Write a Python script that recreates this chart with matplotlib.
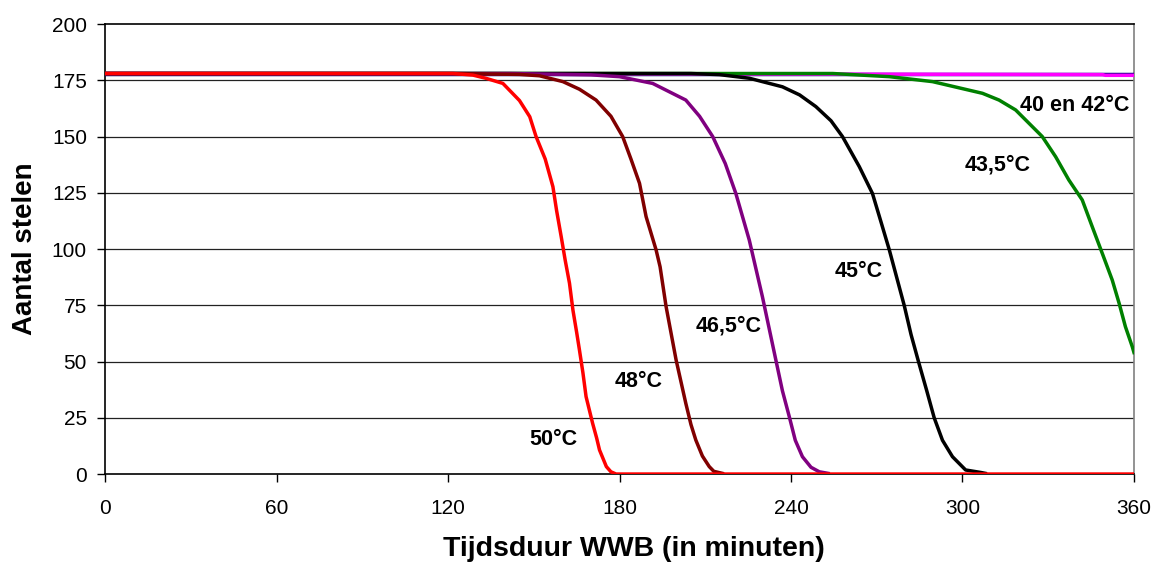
import matplotlib
matplotlib.use("Agg")
import matplotlib.pyplot as plt

plt.rcParams['font.family'] = ['Liberation Sans', 'DejaVu Sans']

# stem counts vs. time (minutes) per temperature
t_40 = [0, 360]
n_40 = [178, 178]

t_42 = [0, 275, 349, 350, 360]
n_42 = [178, 177.7, 177.5, 177.2, 177.2]

t_435 = [0, 254.6, 274.4, 289.5, 307, 312.8, 318.6, 327.9, 332.6, 337.2, 341.9,
         345.4, 348.9, 352.4, 354.8, 357, 359.4, 360]
n_435 = [178, 178, 176.6, 174.4, 169.2, 166.2, 161.8, 150, 141, 130.7, 121.8,
         109.9, 98.1, 86.2, 75.9, 65.5, 56.6, 54]

t_45 = [0, 205, 215, 225.4, 237, 243, 248.7, 254, 258, 263.9, 268.5, 271.5,
        274.4, 279.6, 282, 284.6, 287.5, 290.1, 293, 296.5, 301.1, 306.4, 308]
n_45 = [178, 178, 177.5, 175.9, 172.1, 168.5, 163.3, 157, 150, 136.6, 124.7, 112,
        99.6, 75, 62, 50, 37, 25, 15, 7.7, 1.8, 0.7, 0.3]

t_465 = [0, 142, 170, 180, 191.6, 203.2, 208, 212.6, 217, 220.7, 225.4, 230,
         234.7, 237, 239.4, 241.5, 244, 247, 249.9, 253]
n_465 = [178, 178, 177.4, 176.6, 173.6, 166.2, 159, 150, 138, 124.7, 104, 78.8,
         50.7, 37, 25.5, 15, 7.7, 3, 1, 0.3]

t_48 = [0, 122, 145, 152, 160.2, 166, 171.8, 177, 181.1, 184, 187, 189.3, 192.8,
        194.2, 196.3, 199.8, 203.2, 205, 206.7, 209, 211.4, 213, 216]
n_48 = [178, 178, 177.6, 177, 174.4, 171, 166.2, 159, 150, 140, 129.2, 114.4, 99.6,
        92.1, 74.4, 50.7, 31.4, 22, 15.1, 8, 3.3, 1.2, 0.3]

t_50 = [0, 121.7, 128.7, 133.2, 139.2, 145, 148.6, 150.8, 154, 156.7, 158, 159.6,
        161, 162.5, 163.7, 165, 166, 167.2, 168.3, 170.6, 172, 173, 175.4, 177,
        178.8, 180, 360]
n_50 = [178, 178, 177.3, 175.9, 173.6, 166, 158.8, 150, 140, 127.7, 117, 105.5,
        95, 84.8, 72.9, 63, 55, 45, 34.4, 22.5, 16, 10.7, 3.3, 1, 0, 0, 0]

series = [
    (t_40, n_40, '#000080'),
    (t_42, n_42, '#FF00FF'),
    (t_435, n_435, '#008000'),
    (t_45, n_45, '#000000'),
    (t_465, n_465, '#800080'),
    (t_48, n_48, '#800000'),
    (t_50, n_50, '#FF0000'),
]

labels = ['40 en 42°C', '43,5°C', '45°C', '46,5°C', '48°C', '50°C']
label_x = [320, 300.6, 255.2, 206.8, 178.3, 148.5]
label_y = [164, 137.3, 90, 65.8, 41, 15.5]

fig = plt.figure(figsize=(11.53, 5.65), dpi=100)
ax = fig.add_axes([0.0911, 0.161, 0.8924, 0.7965])

for y in range(25, 200, 25):
    ax.axhline(y, color='#222222', lw=0.9, zorder=1)

for t, n, c in series:
    ax.plot(t, n, color=c, lw=2.5, zorder=3, solid_joinstyle='round')

for s, x, y in zip(labels, label_x, label_y):
    ax.text(x, y, s, fontsize=15.5, fontweight='bold', ha='left', va='center', zorder=4)

ax.set_xlim(0, 360)
ax.set_ylim(0, 200)
ax.set_xticks(range(0, 361, 60))
ax.set_yticks(range(0, 201, 25))
ax.tick_params(axis='both', direction='out', length=6, width=1, labelsize=15)
ax.tick_params(axis='y', pad=7)
ax.tick_params(axis='x', pad=12)

for side in ['left', 'bottom', 'top']:
    ax.spines[side].set_color('black')
    ax.spines[side].set_linewidth(1.2)
ax.spines['right'].set_color('#808080')
ax.spines['right'].set_linewidth(1.2)

ax.set_xlabel('Tijdsduur WWB (in minuten)', fontsize=20.5, fontweight='bold', labelpad=10)
ax.xaxis.set_label_coords(0.514, -0.137)
ax.set_ylabel('Aantal stelen', fontsize=20, fontweight='bold', labelpad=10)

fig.savefig('out.png', dpi=100)
